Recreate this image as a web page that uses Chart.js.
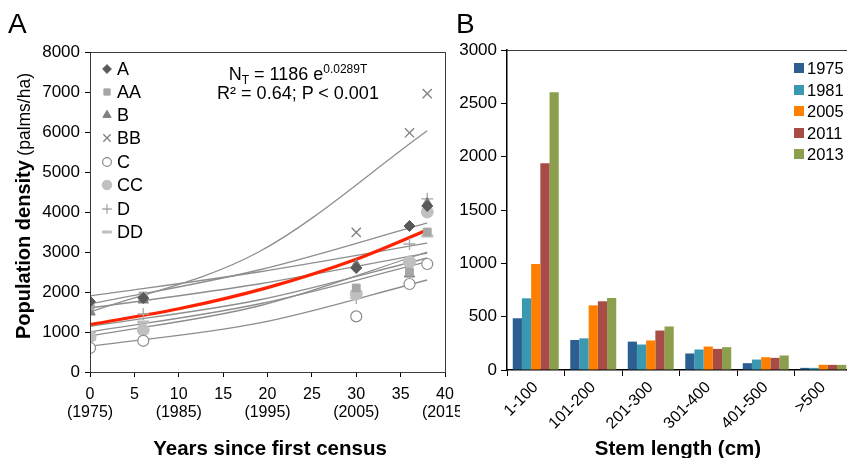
<!DOCTYPE html>
<html>
<head>
<meta charset="utf-8">
<script src="https://cdn.jsdelivr.net/npm/chart.js@4/dist/chart.umd.min.js"></script>
<style>
    body { margin: 0; background: #fff; font-family: "Liberation Sans", Arial, sans-serif; }
    #page { position: relative; width: 847px; height: 458px; overflow: hidden; background: #fff; }
    .box { position: absolute; top: 0; height: 458px; overflow: hidden; }
    .txt { position: absolute; white-space: nowrap; line-height: 1; color: #000; }
</style>
</head>
<body>
<div id="page">
    <div class="box" style="left:0;width:460px"><canvas id="chartA" width="490" height="458"></canvas></div>
    <div class="box" style="left:440px;width:407px"><canvas id="chartB" width="450" height="458"></canvas></div>

    <div class="txt" style="left:8px;top:10px;font-size:28px">A</div>
    <div class="txt" style="left:456px;top:10px;font-size:28px">B</div>

    <div class="txt" style="left:298px;top:63px;font-size:18px;transform:translateX(-50%)">N<sub style="font-size:12px;vertical-align:-4px">T</sub> = 1186 e<sup style="font-size:12px;vertical-align:7px">0.0289T</sup></div>
    <div class="txt" style="left:298px;top:84px;font-size:18px;transform:translateX(-50%)">R² = 0.64; P &lt; 0.001</div>

    <div class="txt" style="left:23px;top:206px;transform:translate(-50%,-50%) rotate(-90deg)"><b style="font-size:20px">Population density</b> <span style="font-size:17.5px">(palms/ha)</span></div>
    <div class="txt" style="left:270px;top:438px;font-size:20.5px;font-weight:bold;transform:translateX(-50%)">Years since first census</div>
    <div class="txt" style="left:678px;top:438px;font-size:20.5px;font-weight:bold;transform:translateX(-50%)">Stem length (cm)</div>
</div>

<script>
// panel A: census years (T) and densities per site
const censusT = [0, 6, 30, 36, 38];
const siteNames = ['A', 'AA', 'B', 'BB', 'C', 'CC', 'D', 'DD'];
const siteA  = [1760, 1850, 2600, 3650, 4150];
const siteAA = [1650, 1900, 2100, 2500, 3500];
const siteB  = [1500, 1800, 2680, 2450, 4220];
const siteBB = [1550, 1870, 3490, 5980, 6960];
const siteC  = [600, 780, 1390, 2200, 2700];
const siteCC = [880, 1050, 1950, 2750, 4000];
const siteD  = [1000, 1450, 1850, 3200, 4330];
const siteDD = [820, 1250, 2000, 2800, 3400];

// exponential fit curves, read at T = 0, 19, 38
const fitT = [0, 19, 38];
const fitA  = [1700, 2550, 3730];
const fitAA = [1900, 2500, 3220];
const fitB  = [1600, 2200, 2970];
const fitBB = [1500, 3000, 6030];
const fitC  = [640, 1220, 2300];
const fitCC = [1000, 1700, 2760];
const fitD  = [1140, 1800, 2850];
const fitDD = [900, 1650, 3000];

// overall fit N_T = 1186 e^0.0289T
const overallT = [0, 10, 20, 30, 38];
const overallN = [1186, 1580, 2110, 2820, 3550];

const xTicksA = [0, 5, 10, 15, 20, 25, 30, 35, 40];

// panel B: stem length classes
const stemBins = ['1-100', '101-200', '201-300', '301-400', '401-500', '>500'];
const yearLabels = ['1975', '1981', '2005', '2011', '2013'];
const yr1975 = [485, 281, 266, 155, 64, 20];
const yr1981 = [672, 297, 239, 192, 98, 20];
const yr2005 = [994, 606, 277, 220, 120, 49];
const yr2011 = [1938, 644, 370, 198, 114, 48];
const yr2013 = [2603, 675, 408, 214, 136, 48];

const toXY = (ts, vs) => ts.map((t, i) => ({ x: t, y: vs[i] }));

const siteVals = [siteA, siteAA, siteB, siteBB, siteC, siteCC, siteD, siteDD];
const siteFits = [fitA, fitAA, fitB, fitBB, fitC, fitCC, fitD, fitDD];

const markerStyle =
[
    { pointStyle: 'rectRot',  radius: 5.5, color: '#595959', fill: '#595959', bw: 1 },
    { pointStyle: 'rect',     radius: 5.5, color: '#a6a6a6', fill: '#a6a6a6', bw: 1 },
    { pointStyle: 'triangle', radius: 6,   color: '#808080', fill: '#808080', bw: 1 },
    { pointStyle: 'crossRot', radius: 6.5, color: '#7f7f7f', fill: '#7f7f7f', bw: 1.3 },
    { pointStyle: 'circle',   radius: 5.5, color: '#8c8c8c', fill: '#ffffff', bw: 1.2 },
    { pointStyle: 'circle',   radius: 6,   color: '#c0c0c0', fill: '#c0c0c0', bw: 1 },
    { pointStyle: 'cross',    radius: 6,   color: '#a6a6a6', fill: '#a6a6a6', bw: 1.3 },
    { pointStyle: 'line',     radius: 6,   color: '#bdbdbd', fill: '#bdbdbd', bw: 3 }
];

let datasetsA = [];

for (let i = 0; i < siteNames.length; i++)
{
    const m = markerStyle[i];
    datasetsA.push(
    {
        label: siteNames[i],
        data: toXY(censusT, siteVals[i]),
        showLine: false,
        pointStyle: m.pointStyle,
        pointRadius: m.radius,
        pointBorderWidth: m.bw,
        pointBorderColor: m.color,
        pointBackgroundColor: m.fill
    });
}

datasetsA.push(
{
    label: 'overall',
    data: toXY(overallT, overallN),
    showLine: true,
    borderColor: '#ff2200',
    borderWidth: 3.2,
    pointRadius: 0,
    cubicInterpolationMode: 'monotone'
});

for (let i = 0; i < siteNames.length; i++)
{
    datasetsA.push(
    {
        label: 'fit ' + siteNames[i],
        data: toXY(fitT, siteFits[i]),
        showLine: true,
        borderColor: '#8e8e8e',
        borderWidth: 1.3,
        pointRadius: 0,
        cubicInterpolationMode: 'monotone'
    });
}

const drawMarker = (ctx, m, x, y, scale) =>
{
    ctx.save();
    ctx.strokeStyle = m.color;
    ctx.fillStyle = m.fill;
    ctx.lineWidth = m.bw;
    Chart.helpers.drawPoint(ctx, { pointStyle: m.pointStyle, radius: m.radius * scale, rotation: 0, borderWidth: m.bw }, x, y);
    ctx.restore();
};

const frameA =
{
    id: 'frameA',
    afterDatasetsDraw(chart)
    {
        const a = chart.chartArea;
        const ctx = chart.ctx;
        ctx.save();
        ctx.strokeStyle = '#3a3a3a';
        ctx.lineWidth = 1;
        ctx.strokeRect(a.left + 0.5, a.top + 0.5, a.right - a.left, a.bottom - a.top);
        ctx.restore();

        // legend column
        const rows = [69, 92, 115, 138, 162, 185, 209, 232];
        ctx.save();
        ctx.font = '18px "Liberation Sans", Arial, sans-serif';
        ctx.textBaseline = 'middle';
        for (let i = 0; i < siteNames.length; i++)
        {
            drawMarker(ctx, markerStyle[i], 107, rows[i], 0.8);
            ctx.fillStyle = '#000';
            ctx.fillText(siteNames[i], 117, rows[i] + 1);
        }
        ctx.restore();
    }
};

new Chart(document.getElementById('chartA'),
{
    type: 'scatter',
    data: { datasets: datasetsA },
    options:
    {
        responsive: false,
        animation: false,
        devicePixelRatio: 1,
        layout: { padding: { top: 52, right: 45, left: 0, bottom: 0 } },
        plugins: { legend: { display: false }, tooltip: { enabled: false } },
        scales:
        {
            x:
            {
                type: 'linear',
                min: 0,
                max: 40,
                afterBuildTicks: (scale) => { scale.ticks = xTicksA.map(v => ({ value: v })); },
                afterFit: (scale) => { scale.height = 86; },
                grid: { display: true, drawOnChartArea: false, color: '#000', tickLength: 5 },
                border: { color: '#000', width: 1 },
                ticks:
                {
                    maxRotation: 0,
                    autoSkip: false,
                    padding: 8,
                    color: '#000',
                    font: { size: 16, family: '"Liberation Sans", Arial, sans-serif', lineHeight: 1.15 },
                    callback: (v) => v % 10 === 0 ? [String(v), '(' + (1975 + v) + ')'] : [String(v), '']
                }
            },
            y:
            {
                min: 0,
                max: 8000,
                afterFit: (scale) => { scale.width = 90; },
                grid: { display: true, drawOnChartArea: false, color: '#000', tickLength: 5 },
                border: { color: '#000', width: 1 },
                ticks:
                {
                    stepSize: 1000,
                    padding: 5,
                    color: '#000',
                    font: { size: 17, family: '"Liberation Sans", Arial, sans-serif' },
                    callback: (v) => String(v)
                }
            }
        }
    },
    plugins: [frameA]
});

// panel B
const barColors = ['#2b5f92', '#3b98b1', '#ff7f00', '#a84c46', '#8c9f4c'];
const yearVals = [yr1975, yr1981, yr2005, yr2011, yr2013];

let datasetsB = [];

for (let i = 0; i < yearLabels.length; i++)
{
    datasetsB.push(
    {
        label: yearLabels[i],
        data: yearVals[i],
        backgroundColor: barColors[i],
        borderWidth: 0,
        categoryPercentage: 0.8,
        barPercentage: 1.0
    });
}

const frameB =
{
    id: 'frameB',
    afterDatasetsDraw(chart)
    {
        const a = chart.chartArea;
        const ctx = chart.ctx;
        ctx.save();
        ctx.strokeStyle = '#3a3a3a';
        ctx.lineWidth = 1;
        ctx.beginPath();
        ctx.moveTo(a.left, a.top + 0.5);
        ctx.lineTo(a.right, a.top + 0.5);
        ctx.stroke();
        ctx.restore();

        const rows = [68, 90, 111, 133, 154];
        ctx.save();
        ctx.font = '16.5px "Liberation Sans", Arial, sans-serif';
        ctx.textBaseline = 'middle';
        for (let i = 0; i < yearLabels.length; i++)
        {
            ctx.fillStyle = barColors[i];
            ctx.fillRect(354, rows[i] - 5, 10, 10);
            ctx.fillStyle = '#000';
            ctx.fillText(yearLabels[i], 367, rows[i] + 1);
        }
        ctx.restore();
    }
};

new Chart(document.getElementById('chartB'),
{
    type: 'bar',
    data: { labels: stemBins, datasets: datasetsB },
    options:
    {
        responsive: false,
        animation: false,
        devicePixelRatio: 1,
        layout: { padding: { top: 50, right: 38, left: 0, bottom: 0 } },
        plugins: { legend: { display: false }, tooltip: { enabled: false } },
        scales:
        {
            x:
            {
                afterFit: (scale) => { scale.height = 88; },
                grid: { display: true, drawOnChartArea: false, color: '#000', tickLength: 6 },
                border: { color: '#000', width: 1.5 },
                ticks:
                {
                    minRotation: 45,
                    maxRotation: 45,
                    autoSkip: false,
                    padding: 2,
                    color: '#000',
                    font: { size: 16, family: '"Liberation Sans", Arial, sans-serif' }
                }
            },
            y:
            {
                min: 0,
                max: 3000,
                afterFit: (scale) => { scale.width = 67; },
                grid: { display: true, drawOnChartArea: false, color: '#000', tickLength: 6 },
                border: { color: '#000', width: 1.5 },
                ticks:
                {
                    stepSize: 500,
                    padding: 4,
                    color: '#000',
                    font: { size: 17, family: '"Liberation Sans", Arial, sans-serif' },
                    callback: (v) => String(v)
                }
            }
        }
    },
    plugins: [frameB]
});
</script>
</body>
</html>
